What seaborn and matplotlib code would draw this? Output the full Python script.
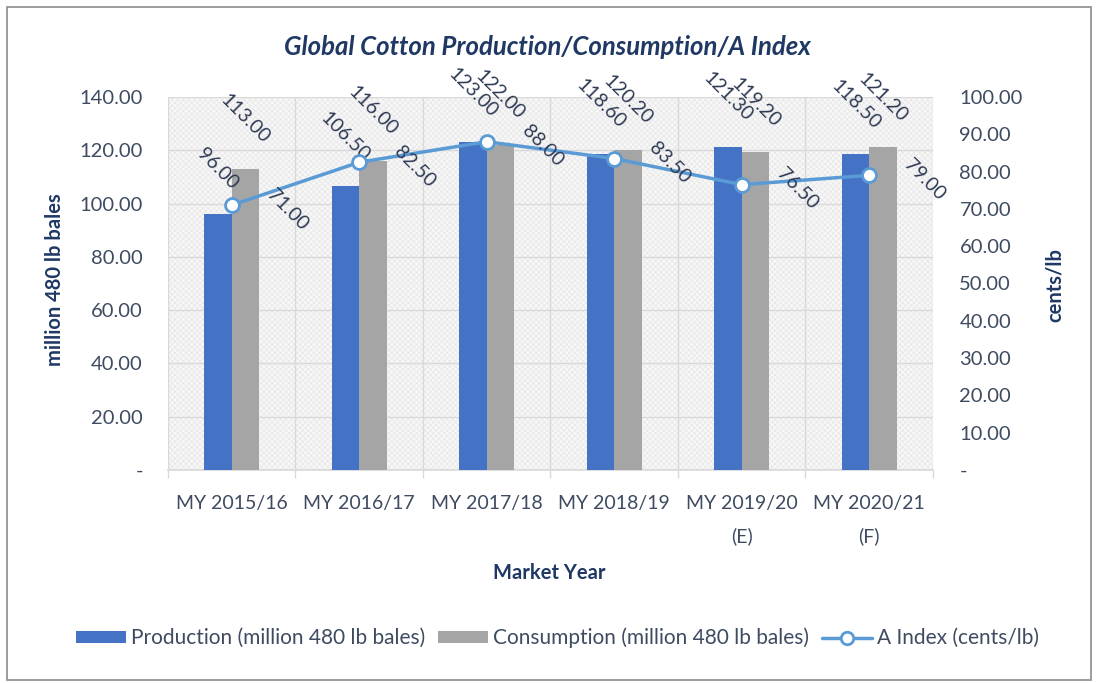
import numpy as np
import pandas as pd
import matplotlib
matplotlib.use("Agg")
import matplotlib.pyplot as plt
import seaborn as sns
from matplotlib.patches import Rectangle, Patch
from matplotlib.lines import Line2D
from matplotlib.ticker import FuncFormatter

# ---------------- data ----------------
categories = ["MY 2015/16", "MY 2016/17", "MY 2017/18", "MY 2018/19",
              "MY 2019/20\n(E)", "MY 2020/21\n(F)"]
production = [96.00, 106.50, 123.00, 118.60, 121.30, 118.50]
consumption = [113.00, 116.00, 122.00, 120.20, 119.20, 121.20]
a_index = [71.00, 82.50, 88.00, 83.50, 76.50, 79.00]

bar_series = ["Production (million 480 lb bales)", "Consumption (million 480 lb bales)"]
line_series = "A Index (cents/lb)"
left_ticks = [0, 20, 40, 60, 80, 100, 120, 140]
right_ticks = [0, 10, 20, 30, 40, 50, 60, 70, 80, 90, 100]

title = "Global Cotton Production/Consumption/A Index"
left_label = "million 480 lb bales"
right_label = "cents/lb"
x_label = "Market Year"

# ---------------- style ----------------
BLUE = "#4472C4"
GRAY = "#A5A5A5"
LINE = "#5B9BD5"
TXT = "#3E4B60"
NAVY = "#1F3864"
LBL = "#2F3B55"
GRID = "#D9D9D9"

sns.set_theme(style="white")
plt.rcParams["font.family"] = ["Lato", "DejaVu Sans"]
plt.rcParams["hatch.linewidth"] = 0.5

df_bars = pd.DataFrame({
    "Market Year": categories * 2,
    "value": production + consumption,
    "series": [bar_series[0]] * len(categories) + [bar_series[1]] * len(categories),
})
df_line = pd.DataFrame({"Market Year": categories, "A Index": a_index})

fig = plt.figure(figsize=(10.97, 6.83), dpi=100)
ax = fig.add_axes([0.1531, 0.3119, 0.6974, 0.5461])
ax.set_facecolor("#F7F7F7")
ax.add_patch(Rectangle((0, 0), 1, 1, transform=ax.transAxes, fill=False,
                       hatch="xxxxxx", edgecolor="#E6E6E6", lw=0, zorder=0))

sns.barplot(data=df_bars, x="Market Year", y="value", hue="series",
            order=categories, hue_order=bar_series, palette=[BLUE, GRAY],
            width=0.43, gap=0, saturation=1, linewidth=0, legend=False,
            ax=ax, zorder=3)

ax.set_ylim(0, 140)
ax.set_yticks(left_ticks)
fmt = FuncFormatter(lambda v, p: "-" if v == 0 else f"{v:.2f}")
ax.yaxis.set_major_formatter(fmt)
ax.set_xticks(np.arange(-0.5, len(categories), 1.0), minor=True)
ax.yaxis.grid(True, color=GRID, lw=1)
ax.xaxis.grid(False, which="major")
ax.xaxis.grid(True, which="minor", color=GRID, lw=1)
ax.set_axisbelow(True)
for s in ["top", "left", "right"]:
    ax.spines[s].set_visible(False)
ax.spines["bottom"].set_color(GRID)
ax.tick_params(axis="x", which="major", length=0, pad=18, labelsize=14, labelcolor=TXT)
ax.tick_params(axis="x", which="minor", length=6, color=GRID, direction="out", bottom=True)
ax.tick_params(axis="y", length=0, pad=18, labelsize=14.5, labelcolor=TXT)
for t in ax.get_xticklabels():
    t.set_linespacing(2.05)
ax.set_xlabel(x_label, fontsize=14.5, fontweight="bold", color=NAVY)
ax.xaxis.label.set(va="center", ha="center")
ax.xaxis.set_label_coords(0.499, (470 - 573) / 373)
ax.set_ylabel(left_label, fontsize=14.5, fontweight="bold", color=NAVY)
ax.yaxis.label.set(va="center", ha="center", rotation_mode="anchor")
ax.yaxis.set_label_coords((55 - 168) / 765, (470 - 280) / 373)

ax2 = ax.twinx()
sns.pointplot(data=df_line, x="Market Year", y="A Index", order=categories,
              color=LINE, markers="o", linestyles="-", errorbar=None,
              markersize=10, markeredgewidth=2, linewidth=2.5,
              markerfacecolor="white", ax=ax2, zorder=5)
ax2.lines[0].set_markerfacecolor("white")
ax2.set_ylim(0, 100)
ax2.set_yticks(right_ticks)
ax2.yaxis.set_major_formatter(fmt)
for s in ax2.spines.values():
    s.set_visible(False)
ax2.tick_params(axis="y", length=0, pad=19, labelsize=14.5, labelcolor=TXT)
ax2.set_ylabel(right_label, fontsize=14.5, fontweight="bold", color=NAVY)
ax2.yaxis.label.set(va="center", ha="center", rotation_mode="anchor")
ax2.yaxis.set_label_coords((1055 - 168) / 765, (470 - 285) / 373)
ax2.grid(False)

# data labels - bars
for cont, vals in zip(ax.containers, [production, consumption]):
    for bar, v in zip(cont, vals):
        ax.annotate(f"{v:.2f}", xy=(bar.get_x() + bar.get_width() / 2, bar.get_height()),
                    xytext=(0, 16), textcoords="offset points", rotation=-45,
                    ha="center", va="bottom", fontsize=14, color=LBL, zorder=6)

# data labels - line
ln = ax2.lines[0]
for xv, yv, v in zip(ln.get_xdata(), ln.get_ydata(), a_index):
    ax2.annotate(f"{v:.2f}", xy=(xv, yv), xytext=(23, -3), textcoords="offset points",
                 rotation=-45, ha="left", va="center", fontsize=14, color=LBL, zorder=6)

fig.text(0.4986, 0.931, title, ha="center", va="center", fontsize=18.5,
         fontweight="bold", fontstyle="italic", color=NAVY)

handles = [Patch(facecolor=BLUE, edgecolor="none"),
           Patch(facecolor=GRAY, edgecolor="none"),
           Line2D([], [], color=LINE, lw=2.5, marker="o", markersize=9,
                  markerfacecolor="white", markeredgewidth=2)]
fig.legend(handles, bar_series + [line_series], loc="center", ncol=3,
           bbox_to_anchor=(0.508, 1 - 638 / 683), frameon=False, fontsize=15,
           handlelength=2.4, handleheight=0.5, handletextpad=0.25,
           columnspacing=0.6, labelcolor=TXT)

fig.add_artist(Rectangle((7 / 1097, 1 - 680 / 683), 1084 / 1097, 673 / 683,
                         transform=fig.transFigure, fill=False, edgecolor="#8C8C8C", lw=1.2))

fig.savefig("out.png", dpi=100)
